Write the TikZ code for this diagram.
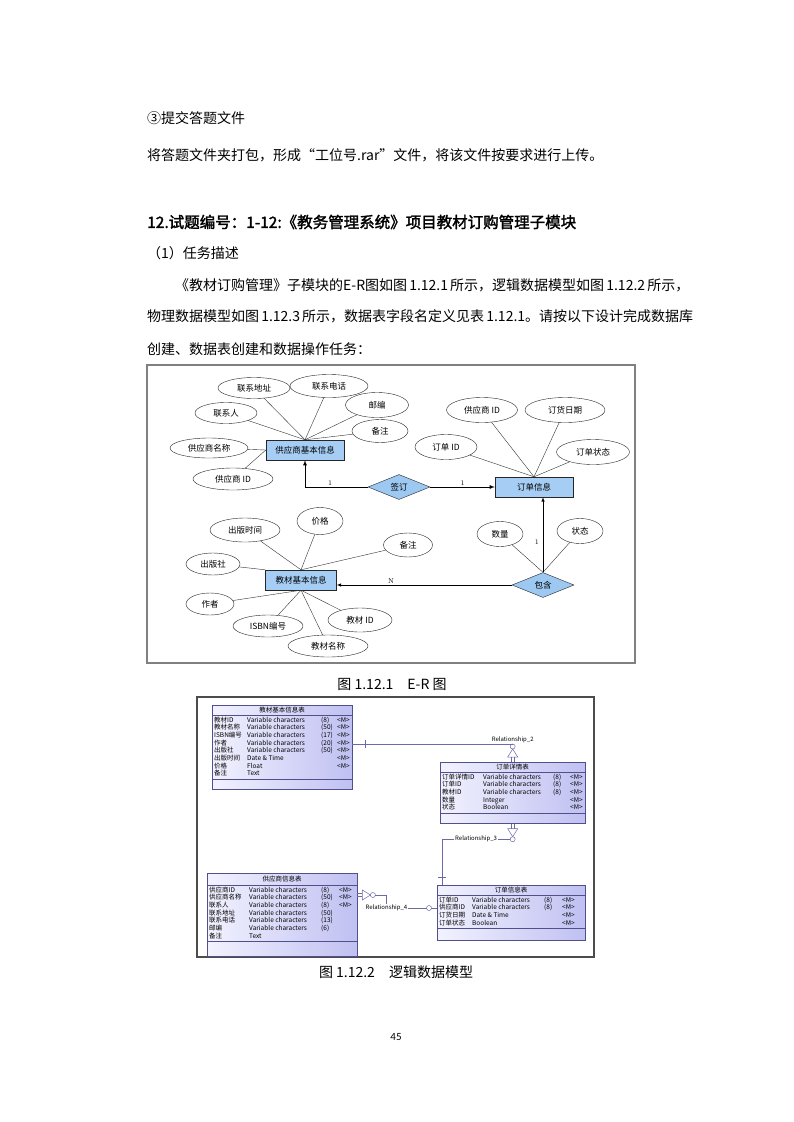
\documentclass[tikz,border=0pt]{standalone}
\usepackage{fontspec}
\usepackage{tikz}
\usetikzlibrary{shapes, shapes.geometric, shapes.multipart, positioning, calc}
\newfontfamily\cjk{Noto Sans CJK SC}
\newfontfamily\cjkb[FakeBold=2]{Noto Sans CJK SC}
\newfontfamily\carl{Carlito}
\setlength{\tabcolsep}{0pt}
\definecolor{entfill}{HTML}{A6CEF5}
\definecolor{relfill}{HTML}{9CC8F2}
\definecolor{tblA}{HTML}{F2F2FF}
\definecolor{tblB}{HTML}{C0C0F2}
\definecolor{tbldraw}{HTML}{50508C}
\definecolor{rlcol}{HTML}{6A6AA8}

\tikzset{
  txt/.style={anchor=west, inner sep=0pt, font=\cjk\fontsize{14}{16}\selectfont},
  attr/.style={ellipse, draw=black!85, fill=white, inner sep=0pt, font=\cjk\fontsize{8.5}{10}\selectfont},
  ent/.style={rectangle, draw=black!85, fill=entfill, minimum height=20pt, inner sep=0pt, font=\cjk\fontsize{8.5}{10}\selectfont},
  rel/.style={diamond, draw=black!85, fill=relfill, aspect=2.5, minimum width=62pt, minimum height=25pt, inner sep=0pt, font=\cjk\fontsize{8.5}{10}\selectfont},
  card/.style={inner sep=1pt, font=\fontsize{7}{8}\selectfont},
  tbl/.style={rectangle split, rectangle split parts=3, draw=tbldraw, left color=tblA, right color=tblB, inner xsep=2pt, inner ysep=1pt, anchor=north west, font=\cjk\fontsize{6.5}{7.2}\selectfont},
  rline/.style={draw=rlcol, line width=0.5pt},
  rlab/.style={inner sep=1pt, font=\cjk\fontsize{6}{7}\selectfont},
  many/.pic={
    \draw[rline] (-1.5,0) -- (-1.5,-5) (1.5,0) -- (1.5,-5);
    \draw[rline] (-5,-5) -- (5,-5) -- (0,-13) -- cycle;
    \draw[rline, fill=white] (0,-15.5) circle (2.5pt);
  }
}

\begin{document}
\begin{tikzpicture}[x=1pt, y=-1pt, >=latex]
    \fill[white] (0,0) rectangle (793,1122);
    \useasboundingbox (0,0) rectangle (793,1122);

    % page text
    \node[txt] (l1) at (147,118) {③提交答题文件};
    \node[txt] (l2) at (147,155) {将答题文件夹打包，形成“工位号.rar”文件，将该文件按要求进行上传。};
    \node[txt, font=\cjkb\fontsize{15.5}{17}\selectfont] (h1) at (147,222) {12.试题编号：1-12:《教务管理系统》项目教材订购管理子模块};
    \node[txt] (l3) at (147,253) {（1）任务描述};
    \node[txt] (p1) at (175,285) {\makebox[510pt][s]{《教材订购管理》子模块的E-R图如图 1.12.1 所示，逻辑数据模型如图 1.12.2 所示，}};
    \node[txt] (p2) at (147,316) {\makebox[538pt][s]{物理数据模型如图 1.12.3 所示，数据表字段名定义见表 1.12.1。请按以下设计完成数据库}};
    \node[txt] (p3) at (147,349) {创建、数据表创建和数据操作任务：};

    % E-R diagram
    \draw[gray, line width=1.4pt] (147,365) rectangle (635,663);

    \node[ent, minimum width=78pt] (supp) at (305,450) {供应商基本信息};
    \node[ent, minimum width=78pt] (order) at (534,487) {订单信息};
    \node[ent, minimum width=71pt] (book) at (301,580) {教材基本信息};
    \node[rel] (sign) at (399,487) {签订};
    \node[rel] (cont) at (543,585) {包含};

    \node[attr, minimum width=72pt, minimum height=21pt] (a1) at (254,388) {联系地址};
    \node[attr, minimum width=78pt, minimum height=23pt] (a2) at (329,386) {联系电话};
    \node[attr, minimum width=63pt, minimum height=25pt] (a3) at (377,405) {邮编};
    \node[attr, minimum width=62pt, minimum height=21pt] (a4) at (226,413) {联系人};
    \node[attr, minimum width=56pt, minimum height=23pt] (a5) at (380,431) {备注};
    \node[attr, minimum width=78pt, minimum height=20pt] (a6) at (209,448) {供应商名称};
    \node[attr, minimum width=80pt, minimum height=22pt] (a7) at (233,479) {供应商 ID};

    \node[attr, minimum width=71pt, minimum height=25pt] (o1) at (482,410) {供应商 ID};
    \node[attr, minimum width=80pt, minimum height=25pt] (o2) at (565,410) {订货日期};
    \node[attr, minimum width=62pt, minimum height=25pt] (o3) at (446,447) {订单 ID};
    \node[attr, minimum width=73pt, minimum height=25pt] (o4) at (593,452) {订单状态};

    \node[attr, minimum width=70pt, minimum height=24pt] (b1) at (245,530) {出版时间};
    \node[attr, minimum width=46pt, minimum height=27pt] (b2) at (320,521) {价格};
    \node[attr, minimum width=49pt, minimum height=24pt] (b3) at (408,545) {备注};
    \node[attr, minimum width=54pt, minimum height=22pt] (b4) at (213,564) {出版社};
    \node[attr, minimum width=48pt, minimum height=22pt] (b5) at (210,604) {作者};
    \node[attr, minimum width=70pt, minimum height=22pt] (b6) at (268,626) {ISBN编号};
    \node[attr, minimum width=80pt, minimum height=22pt] (b7) at (328,646) {教材名称};
    \node[attr, minimum width=64pt, minimum height=24pt] (b8) at (360,620) {教材 ID};

    \node[attr, minimum width=46pt, minimum height=25pt] (c1) at (500,534) {数量};
    \node[attr, minimum width=46pt, minimum height=25pt] (c2) at (580,531) {状态};

    \foreach \a in {a1,a2,a3,a4,a5}
        \draw[black!80] (\a) -- (supp.north);
    \foreach \a in {a6,a7}
        \draw[black!80] (\a) -- (supp.west);
    \foreach \a in {o1,o2,o3,o4}
        \draw[black!80] (\a) -- (order.north);
    \foreach \a in {b1,b2,b3}
        \draw[black!80] (\a) -- (book.north);
    \draw[black!80] (b4) -- (book.north west);
    \foreach \a in {b5,b6,b7,b8}
        \draw[black!80] (\a) -- (book.south);
    \foreach \a in {c1,c2}
        \draw[black!80] (\a) -- (cont.north);

    \draw[->, line width=0.8pt] (sign.west) -| node[card, pos=0.3, above] {1} (supp.south);
    \draw[->, line width=0.8pt] (sign.east) -- node[card, above] {1} (order.west);
    \draw[->, line width=0.5pt] (cont.north) -- node[card, pos=0.4, left=3pt] {1} (cont.north |- order.south);
    \draw[->, line width=0.5pt] (cont.west) -- node[card, pos=0.69, above] {N} (cont.west -| book.east);

    \node[txt, anchor=center] (cap1) at (392,684) {图 1.12.1\quad E-R 图};

    % logical data model
    \draw[black!70, line width=1.2pt] (197,697) rectangle (594,957);

    \node[tbl] (t1) at (212,705) {教材基本信息表\rule[-2pt]{0pt}{8pt}
        \nodepart{two}\begin{tabular}{@{}p{33pt}p{74pt}p{16pt}p{13pt}@{}}
        教材ID & Variable characters & (8) & <M>\\
        教材名称 & Variable characters & (50) & <M>\\
        ISBN编号 & Variable characters & (17) & <M>\\
        作者 & Variable characters & (20) & <M>\\
        出版社 & Variable characters & (50) & <M>\\
        出版时间 & Date \& Time & & <M>\\
        价格 & Float & & <M>\\
        备注 & Text & &
        \end{tabular}
        \nodepart{three}\rule{0pt}{8pt}};

    \node[tbl] (t2) at (440,762) {订单详情表\rule[-2pt]{0pt}{8pt}
        \nodepart{two}\begin{tabular}{@{}p{41pt}p{70pt}p{17pt}p{13pt}@{}}
        订单详情ID & Variable characters & (8) & <M>\\
        订单ID & Variable characters & (8) & <M>\\
        教材ID & Variable characters & (8) & <M>\\
        数量 & Integer & & <M>\\
        状态 & Boolean & & <M>
        \end{tabular}
        \nodepart{three}\rule{0pt}{8pt}};

    \node[tbl] (t3) at (207,873) {供应商信息表\rule[-3pt]{0pt}{10pt}
        \nodepart{two}\begin{tabular}{@{}p{40pt}p{72pt}p{18pt}p{16pt}@{}}
        供应商ID & Variable characters & (8) & <M>\\
        供应商名称 & Variable characters & (50) & <M>\\
        联系人 & Variable characters & (8) & <M>\\
        联系地址 & Variable characters & (50) & \\
        联系电话 & Variable characters & (13) & \\
        邮编 & Variable characters & (6) & \\
        备注 & Text & &
        \end{tabular}
        \nodepart{three}\rule{0pt}{12pt}};

    \node[tbl] (t4) at (437,885) {订单信息表\rule[-2pt]{0pt}{8pt}
        \nodepart{two}\begin{tabular}{@{}p{33pt}p{72pt}p{18pt}p{21pt}@{}}
        订单ID & Variable characters & (8) & <M>\\
        供应商ID & Variable characters & (8) & <M>\\
        订货日期 & Date \& Time & & <M>\\
        订单状态 & Boolean & & <M>
        \end{tabular}
        \nodepart{three}\rule{0pt}{9pt}};

    % relationships
    \pic at (t2.north) {many};
    \coordinate (m2) at ($(t2.north)+(0,-18)$);
    \draw[rline] (t1.east |- m2) -- (m2);
    \draw[rline] ($(t1.east |- m2)+(13,-4)$) -- ++(0,8);
    \node[rlab, above] (r2) at (m2) {Relationship\_2};

    \pic[rotate=180] at (t2.south) {many};
    \coordinate (m3) at ($(t2.south)+(-2.5,15.5)$);
    \coordinate (c4) at ($(t4.north west)+(5,0)$);
    \draw[rline] (m3) -| node[rlab, fill=white, pos=0.25] (r3) {Relationship\_3} (c4);
    \draw[rline] ($(c4)+(-4,-8)$) -- ++(8,0);

    \coordinate (e3) at ($(t3.north east)+(0,22)$);
    \pic[rotate=-90] at (e3) {many};
    \coordinate (m4) at ($(e3)+(18,0)$);
    \node[rlab] (r4) at ($(e3)+(29,13)$) {Relationship\_4};
    \draw[rline] (m4) -| (r4.north);
    \draw[rline] (r4.east) -- (r4.east -| t4.west);
    \draw[rline, fill=white] ($(r4.east -| t4.west)+(-8,0)$) circle (2.5pt);

    \node[txt, anchor=center] (cap2) at (396,972) {图 1.12.2\quad 逻辑数据模型};
    \node[inner sep=0pt, font=\carl\fontsize{11}{13}\selectfont] (pg) at (396,1037) {45};
\end{tikzpicture}
\end{document}
